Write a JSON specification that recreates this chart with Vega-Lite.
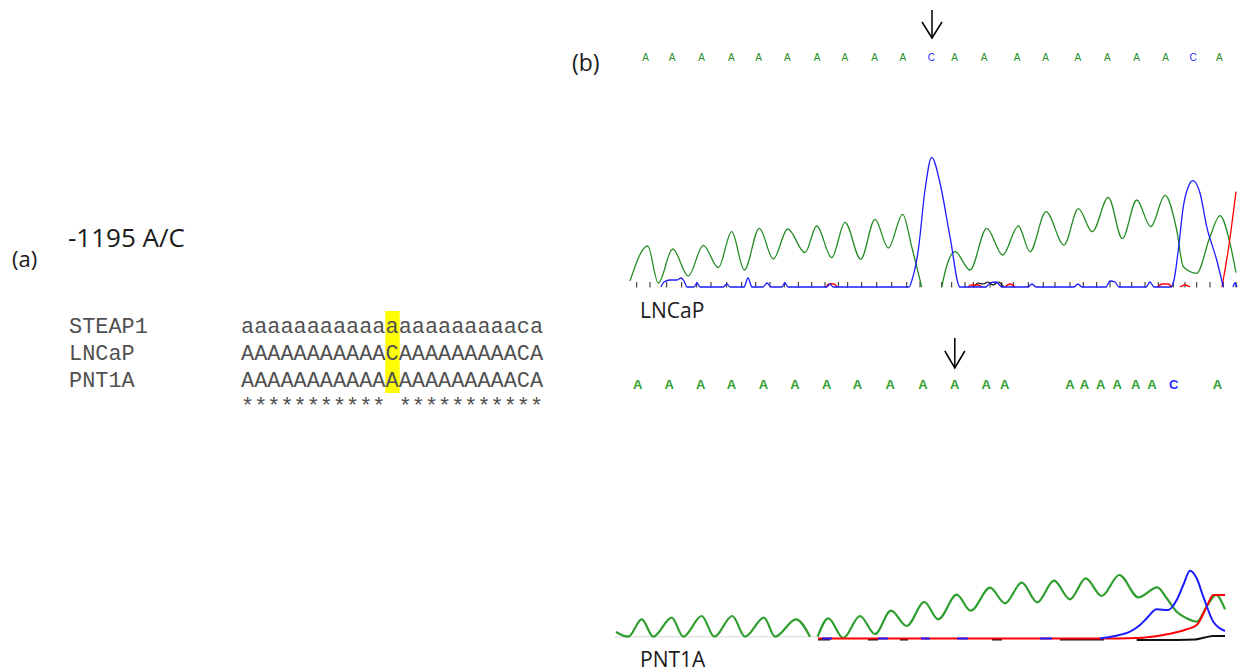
{
  "$schema": "https://vega.github.io/schema/vega-lite/v6.json",
  "width": 1248,
  "height": 672,
  "autosize": {"type": "fit", "contains": "padding"},
  "padding": 0,
  "background": "white",
  "config": {"view": {"stroke": null}},
  "datasets": {
    "highlight": [{"col": 12, "x": 385.3, "x2": 399.7, "y": 311, "y2": 393}],
    "align": [
      {"t": "STEAP1", "x": 69, "y": 333.3},
      {"t": "aaaaaaaaaaaaaaaaaaaaaca", "x": 241, "y": 333.3},
      {"t": "LNCaP", "x": 69, "y": 360},
      {"t": "AAAAAAAAAAACAAAAAAAAACA", "x": 241, "y": 360},
      {"t": "PNT1A", "x": 69, "y": 386.7},
      {"t": "AAAAAAAAAAAAAAAAAAAAACA", "x": 241, "y": 386.7},
      {"t": "*********** ***********", "x": 241, "y": 413.3}
    ],
    "labels": [
      {"t": "(a)", "x": 12, "y": 267},
      {"t": "-1195 A/C", "x": 68, "y": 247},
      {"t": "(b)", "x": 572, "y": 71},
      {"t": "LNCaP", "x": 640, "y": 318},
      {"t": "PNT1A", "x": 640, "y": 667}
    ],
    "calls1": [
      {"b": "A", "x": 645.7, "y": 58}, {"b": "A", "x": 672.1, "y": 58}, {"b": "A", "x": 701.5, "y": 58}, {"b": "A", "x": 731.4, "y": 58},
      {"b": "A", "x": 758.7, "y": 58}, {"b": "A", "x": 787.3, "y": 58}, {"b": "A", "x": 817.1, "y": 58}, {"b": "A", "x": 844.8, "y": 58},
      {"b": "A", "x": 874.7, "y": 58}, {"b": "A", "x": 902.9, "y": 58}, {"b": "C", "x": 931.4, "y": 58}, {"b": "A", "x": 954.7, "y": 58},
      {"b": "A", "x": 984.2, "y": 58}, {"b": "A", "x": 1017.1, "y": 58}, {"b": "A", "x": 1045.7, "y": 58}, {"b": "A", "x": 1077.8, "y": 58},
      {"b": "A", "x": 1107.3, "y": 58}, {"b": "A", "x": 1136.7, "y": 58}, {"b": "A", "x": 1165.7, "y": 58}, {"b": "C", "x": 1193, "y": 58},
      {"b": "A", "x": 1219.3, "y": 58}
    ],
    "calls2": [
      {"b": "A", "x": 637.8, "y": 385}, {"b": "A", "x": 669.3, "y": 385}, {"b": "A", "x": 700.8, "y": 385}, {"b": "A", "x": 731.5, "y": 385},
      {"b": "A", "x": 763.4, "y": 385}, {"b": "A", "x": 794.9, "y": 385}, {"b": "A", "x": 826.8, "y": 385}, {"b": "A", "x": 857.4, "y": 385},
      {"b": "A", "x": 890.2, "y": 385}, {"b": "A", "x": 922.9, "y": 385}, {"b": "A", "x": 954.8, "y": 385}, {"b": "A", "x": 986.3, "y": 385},
      {"b": "A", "x": 1004.7, "y": 385}, {"b": "A", "x": 1070, "y": 385}, {"b": "A", "x": 1084.4, "y": 385}, {"b": "A", "x": 1100.8, "y": 385},
      {"b": "A", "x": 1117.2, "y": 385}, {"b": "A", "x": 1135.6, "y": 385}, {"b": "A", "x": 1151.9, "y": 385}, {"b": "C", "x": 1173.6, "y": 385},
      {"b": "A", "x": 1217.4, "y": 385}
    ],
    "shafts": [
      {"id": "a1", "x": 932, "y": 10, "y2": 38},
      {"id": "a2", "x": 954.8, "y": 338, "y2": 368}
    ],
    "heads": [
      {"id": "a1", "x": 922, "y": 22}, {"id": "a1", "x": 932, "y": 38}, {"id": "a1", "x": 942, "y": 22},
      {"id": "a2", "x": 944.8, "y": 351}, {"id": "a2", "x": 954.8, "y": 368}, {"id": "a2", "x": 964.8, "y": 351}
    ],
    "ticks": [
      {"x": 636.7, "y": 282, "y2": 287.5}, {"x": 650, "y": 282, "y2": 287.5}, {"x": 666.7, "y": 282, "y2": 287.5},
      {"x": 681.7, "y": 282, "y2": 287.5}, {"x": 696.7, "y": 282, "y2": 287.5}, {"x": 711, "y": 282, "y2": 287.5},
      {"x": 726.7, "y": 282, "y2": 287.5}, {"x": 741.7, "y": 282, "y2": 287.5}, {"x": 755.7, "y": 282, "y2": 287.5},
      {"x": 770, "y": 282, "y2": 287.5}, {"x": 784.3, "y": 282, "y2": 287.5}, {"x": 798.3, "y": 282, "y2": 287.5},
      {"x": 811.7, "y": 282, "y2": 287.5}, {"x": 825, "y": 282, "y2": 287.5}, {"x": 838.3, "y": 282, "y2": 287.5},
      {"x": 847.7, "y": 282, "y2": 287.5}, {"x": 861.7, "y": 282, "y2": 287.5}, {"x": 876.7, "y": 282, "y2": 287.5},
      {"x": 891.7, "y": 282, "y2": 287.5}, {"x": 906.7, "y": 282, "y2": 287.5}, {"x": 920, "y": 282, "y2": 287.5},
      {"x": 941.7, "y": 282, "y2": 287.5}, {"x": 951.7, "y": 282, "y2": 287.5}, {"x": 965, "y": 282, "y2": 287.5},
      {"x": 973.3, "y": 282, "y2": 287.5}, {"x": 990, "y": 282, "y2": 287.5}, {"x": 1001.7, "y": 282, "y2": 287.5},
      {"x": 1013.3, "y": 282, "y2": 287.5}, {"x": 1028.3, "y": 282, "y2": 287.5}, {"x": 1043.3, "y": 282, "y2": 287.5},
      {"x": 1055, "y": 282, "y2": 287.5}, {"x": 1070, "y": 282, "y2": 287.5}, {"x": 1083.3, "y": 282, "y2": 287.5},
      {"x": 1096.7, "y": 282, "y2": 287.5}, {"x": 1110, "y": 282, "y2": 287.5}, {"x": 1120, "y": 282, "y2": 287.5},
      {"x": 1131.7, "y": 282, "y2": 287.5}, {"x": 1145, "y": 282, "y2": 287.5}, {"x": 1158.3, "y": 282, "y2": 287.5},
      {"x": 1173.3, "y": 282, "y2": 287.5}, {"x": 1185, "y": 282, "y2": 287.5}, {"x": 1196.7, "y": 282, "y2": 287.5},
      {"x": 1210, "y": 282, "y2": 287.5}, {"x": 1223.3, "y": 282, "y2": 287.5}, {"x": 1236, "y": 282, "y2": 287.5}
    ],
    "traces": [
      {"s": "tG1", "x": 630, "y": 281}, {"s": "tG1", "x": 647.7, "y": 246}, {"s": "tG1", "x": 658.3, "y": 283},
      {"s": "tG1", "x": 672.7, "y": 249}, {"s": "tG1", "x": 688.3, "y": 276}, {"s": "tG1", "x": 703.3, "y": 245.3},
      {"s": "tG1", "x": 718.3, "y": 267.7}, {"s": "tG1", "x": 731.7, "y": 231.7}, {"s": "tG1", "x": 744.3, "y": 270},
      {"s": "tG1", "x": 759.3, "y": 228.3}, {"s": "tG1", "x": 773.3, "y": 259}, {"s": "tG1", "x": 787.7, "y": 229},
      {"s": "tG1", "x": 805, "y": 252.7}, {"s": "tG1", "x": 816.7, "y": 226}, {"s": "tG1", "x": 831.7, "y": 257.7},
      {"s": "tG1", "x": 845, "y": 222.3}, {"s": "tG1", "x": 860.7, "y": 259.3}, {"s": "tG1", "x": 875, "y": 219.3},
      {"s": "tG1", "x": 888.3, "y": 248}, {"s": "tG1", "x": 902.7, "y": 214.3}, {"s": "tG1", "x": 911.7, "y": 246.7},
      {"s": "tG1", "x": 916.7, "y": 266.7}, {"s": "tG1", "x": 921.7, "y": 287},
      {"s": "tG2", "x": 941.7, "y": 287}, {"s": "tG2", "x": 947, "y": 265}, {"s": "tG2", "x": 955, "y": 251.7},
      {"s": "tG2", "x": 970, "y": 270}, {"s": "tG2", "x": 986.7, "y": 228.3}, {"s": "tG2", "x": 1002.7, "y": 255},
      {"s": "tG2", "x": 1018.3, "y": 226}, {"s": "tG2", "x": 1030, "y": 251.7}, {"s": "tG2", "x": 1046, "y": 211.7},
      {"s": "tG2", "x": 1064, "y": 245}, {"s": "tG2", "x": 1078.3, "y": 208.7}, {"s": "tG2", "x": 1092.3, "y": 231.7},
      {"s": "tG2", "x": 1108.3, "y": 197.3}, {"s": "tG2", "x": 1122.3, "y": 238.7}, {"s": "tG2", "x": 1136.7, "y": 200},
      {"s": "tG2", "x": 1150.7, "y": 226.7}, {"s": "tG2", "x": 1165, "y": 195.3}, {"s": "tG2", "x": 1176.7, "y": 230},
      {"s": "tG2", "x": 1183.3, "y": 266.7}, {"s": "tG2", "x": 1196.7, "y": 273.3}, {"s": "tG2", "x": 1210, "y": 236.7},
      {"s": "tG2", "x": 1220, "y": 215.7}, {"s": "tG2", "x": 1230, "y": 243.3}, {"s": "tG2", "x": 1236, "y": 272.7},

      {"s": "tB1", "x": 661, "y": 287}, {"s": "tB1", "x": 664, "y": 282}, {"s": "tB1", "x": 670, "y": 280},
      {"s": "tB1", "x": 677, "y": 280}, {"s": "tB1", "x": 681, "y": 278}, {"s": "tB1", "x": 684, "y": 281},
      {"s": "tB1", "x": 687, "y": 287}, {"s": "tB1", "x": 694, "y": 287}, {"s": "tB1", "x": 697, "y": 283},
      {"s": "tB1", "x": 700, "y": 287}, {"s": "tB1", "x": 723, "y": 287}, {"s": "tB1", "x": 727, "y": 284},
      {"s": "tB1", "x": 730, "y": 287}, {"s": "tB1", "x": 744, "y": 287}, {"s": "tB1", "x": 748, "y": 278},
      {"s": "tB1", "x": 752, "y": 287}, {"s": "tB1", "x": 763, "y": 287}, {"s": "tB1", "x": 767, "y": 283},
      {"s": "tB1", "x": 771, "y": 287}, {"s": "tB1", "x": 782, "y": 287}, {"s": "tB1", "x": 785, "y": 283},
      {"s": "tB1", "x": 788, "y": 287}, {"s": "tB1", "x": 827, "y": 287}, {"s": "tB1", "x": 830, "y": 284},
      {"s": "tB1", "x": 833, "y": 287}, {"s": "tB1", "x": 909, "y": 287}, {"s": "tB1", "x": 912, "y": 280},
      {"s": "tB1", "x": 918.3, "y": 250}, {"s": "tB1", "x": 925, "y": 190}, {"s": "tB1", "x": 931.7, "y": 157.3},
      {"s": "tB1", "x": 940, "y": 183}, {"s": "tB1", "x": 950, "y": 236.7}, {"s": "tB1", "x": 960, "y": 287},
      {"s": "tB1", "x": 986, "y": 287}, {"s": "tB1", "x": 990, "y": 283}, {"s": "tB1", "x": 996, "y": 282},
      {"s": "tB1", "x": 1002, "y": 287}, {"s": "tB1", "x": 1028, "y": 287}, {"s": "tB1", "x": 1032, "y": 284},
      {"s": "tB1", "x": 1036, "y": 287}, {"s": "tB1", "x": 1074, "y": 287}, {"s": "tB1", "x": 1078, "y": 284},
      {"s": "tB1", "x": 1082, "y": 287}, {"s": "tB1", "x": 1106, "y": 287}, {"s": "tB1", "x": 1110, "y": 281},
      {"s": "tB1", "x": 1115, "y": 282}, {"s": "tB1", "x": 1119, "y": 287}, {"s": "tB1", "x": 1146, "y": 287},
      {"s": "tB1", "x": 1150, "y": 282}, {"s": "tB1", "x": 1154, "y": 287}, {"s": "tB1", "x": 1171, "y": 287},
      {"s": "tB1", "x": 1174, "y": 280}, {"s": "tB1", "x": 1178.3, "y": 250}, {"s": "tB1", "x": 1183.3, "y": 206.7},
      {"s": "tB1", "x": 1188.3, "y": 186.7}, {"s": "tB1", "x": 1192.7, "y": 180.7}, {"s": "tB1", "x": 1200, "y": 193},
      {"s": "tB1", "x": 1206.7, "y": 226.7}, {"s": "tB1", "x": 1216.7, "y": 260}, {"s": "tB1", "x": 1223.3, "y": 287},
      {"s": "tB2", "x": 1233, "y": 287}, {"s": "tB2", "x": 1235, "y": 283}, {"s": "tB2", "x": 1237, "y": 287},

      {"s": "tR1", "x": 826, "y": 287}, {"s": "tR1", "x": 829, "y": 284}, {"s": "tR1", "x": 834, "y": 284}, {"s": "tR1", "x": 837, "y": 287},
      {"s": "tR2", "x": 968, "y": 287}, {"s": "tR2", "x": 972, "y": 285}, {"s": "tR2", "x": 978, "y": 285}, {"s": "tR2", "x": 982, "y": 287},
      {"s": "tR3", "x": 1005, "y": 287}, {"s": "tR3", "x": 1010, "y": 284}, {"s": "tR3", "x": 1015, "y": 287},
      {"s": "tR4", "x": 1158, "y": 287}, {"s": "tR4", "x": 1162, "y": 284}, {"s": "tR4", "x": 1168, "y": 284}, {"s": "tR4", "x": 1172, "y": 287},
      {"s": "tR5", "x": 1180, "y": 287}, {"s": "tR5", "x": 1185, "y": 285}, {"s": "tR5", "x": 1190, "y": 287},
      {"s": "tR6", "x": 1222, "y": 287}, {"s": "tR6", "x": 1229, "y": 245}, {"s": "tR6", "x": 1236, "y": 191.7},
      {"s": "tK1", "x": 974, "y": 287}, {"s": "tK1", "x": 978, "y": 283}, {"s": "tK1", "x": 983, "y": 284},
      {"s": "tK1", "x": 988, "y": 282}, {"s": "tK1", "x": 993, "y": 285}, {"s": "tK1", "x": 998, "y": 282}, {"s": "tK1", "x": 1004, "y": 287},

      {"s": "bL1", "x": 615, "y": 636.7}, {"s": "bL1", "x": 818, "y": 636.7},
      {"s": "bG1", "x": 616, "y": 632}, {"s": "bG1", "x": 628.3, "y": 636.7}, {"s": "bG1", "x": 641.7, "y": 619.3},
      {"s": "bG1", "x": 653.3, "y": 636.7}, {"s": "bG1", "x": 671.7, "y": 617.7}, {"s": "bG1", "x": 683.3, "y": 636.7},
      {"s": "bG1", "x": 701.7, "y": 616}, {"s": "bG1", "x": 714.3, "y": 636.7}, {"s": "bG1", "x": 732.3, "y": 616},
      {"s": "bG1", "x": 745, "y": 636.7}, {"s": "bG1", "x": 764, "y": 617.7}, {"s": "bG1", "x": 775, "y": 636.7},
      {"s": "bG1", "x": 796, "y": 619.3}, {"s": "bG1", "x": 810, "y": 636.7},
      {"s": "bG2", "x": 817.7, "y": 636.7}, {"s": "bG2", "x": 828.3, "y": 618.3}, {"s": "bG2", "x": 843.3, "y": 638},
      {"s": "bG2", "x": 860, "y": 616}, {"s": "bG2", "x": 875, "y": 634}, {"s": "bG2", "x": 891, "y": 610.7},
      {"s": "bG2", "x": 906.7, "y": 626}, {"s": "bG2", "x": 924.3, "y": 602}, {"s": "bG2", "x": 938.3, "y": 619.3},
      {"s": "bG2", "x": 956.7, "y": 594.7}, {"s": "bG2", "x": 970.7, "y": 610.7}, {"s": "bG2", "x": 990, "y": 587.7},
      {"s": "bG2", "x": 1005, "y": 603.3}, {"s": "bG2", "x": 1021.7, "y": 582.7}, {"s": "bG2", "x": 1037.3, "y": 602.3},
      {"s": "bG2", "x": 1054, "y": 580.7}, {"s": "bG2", "x": 1070, "y": 599.3}, {"s": "bG2", "x": 1085.7, "y": 578.3},
      {"s": "bG2", "x": 1101.7, "y": 596}, {"s": "bG2", "x": 1119.3, "y": 575}, {"s": "bG2", "x": 1138.3, "y": 597.3},
      {"s": "bG2", "x": 1157.3, "y": 587.3}, {"s": "bG2", "x": 1166.7, "y": 598.3}, {"s": "bG2", "x": 1176.7, "y": 611.7},
      {"s": "bG2", "x": 1186.7, "y": 618.3}, {"s": "bG2", "x": 1196.7, "y": 621.7}, {"s": "bG2", "x": 1206.7, "y": 606.7},
      {"s": "bG2", "x": 1216, "y": 595}, {"s": "bG2", "x": 1225, "y": 609.3},

      {"s": "bK1", "x": 818, "y": 639.5}, {"s": "bK1", "x": 830, "y": 639.5},
      {"s": "bK2", "x": 868, "y": 639.5}, {"s": "bK2", "x": 878, "y": 639.5},
      {"s": "bK3", "x": 900, "y": 639.5}, {"s": "bK3", "x": 908, "y": 639.5},
      {"s": "bK4", "x": 992, "y": 639.5}, {"s": "bK4", "x": 1002, "y": 639.5},
      {"s": "bK5", "x": 1060, "y": 639.5}, {"s": "bK5", "x": 1104, "y": 639.5},
      {"s": "bK6", "x": 1136.7, "y": 640}, {"s": "bK6", "x": 1160, "y": 640}, {"s": "bK6", "x": 1195, "y": 639.5},
      {"s": "bK6", "x": 1205, "y": 637.5}, {"s": "bK6", "x": 1213, "y": 636}, {"s": "bK6", "x": 1225, "y": 636},

      {"s": "bR1", "x": 818, "y": 638.5}, {"s": "bR1", "x": 1100, "y": 638.5}, {"s": "bR1", "x": 1136.7, "y": 638},
      {"s": "bR1", "x": 1163.3, "y": 635}, {"s": "bR1", "x": 1186.7, "y": 629.3}, {"s": "bR1", "x": 1196.7, "y": 625},
      {"s": "bR1", "x": 1206.7, "y": 606.7}, {"s": "bR1", "x": 1213.3, "y": 595}, {"s": "bR1", "x": 1225, "y": 595},

      {"s": "bB1", "x": 822, "y": 638.5}, {"s": "bB1", "x": 832, "y": 638.5},
      {"s": "bB2", "x": 878, "y": 638.5}, {"s": "bB2", "x": 888, "y": 638.5},
      {"s": "bB3", "x": 921, "y": 638.5}, {"s": "bB3", "x": 930, "y": 638.5},
      {"s": "bB4", "x": 957, "y": 638.5}, {"s": "bB4", "x": 968, "y": 638.5},
      {"s": "bB5", "x": 1040, "y": 638.5}, {"s": "bB5", "x": 1052, "y": 638.5},
      {"s": "bB6", "x": 1100, "y": 638.5}, {"s": "bB6", "x": 1115, "y": 636}, {"s": "bB6", "x": 1130, "y": 631.7},
      {"s": "bB6", "x": 1140, "y": 625}, {"s": "bB6", "x": 1146.7, "y": 618.3}, {"s": "bB6", "x": 1156.7, "y": 609.3},
      {"s": "bB6", "x": 1168.3, "y": 610}, {"s": "bB6", "x": 1176.7, "y": 600}, {"s": "bB6", "x": 1183.3, "y": 585},
      {"s": "bB6", "x": 1190, "y": 570.7}, {"s": "bB6", "x": 1196.7, "y": 578.3}, {"s": "bB6", "x": 1203.3, "y": 596.7},
      {"s": "bB6", "x": 1213.3, "y": 621.7}, {"s": "bB6", "x": 1225, "y": 631}
    ]
  },
  "encoding": {
    "x": {"field": "x", "type": "quantitative", "scale": {"domain": [0, 1248], "nice": false, "zero": false}, "axis": null},
    "y": {"field": "y", "type": "quantitative", "scale": {"domain": [0, 672], "reverse": true, "nice": false, "zero": false}, "axis": null}
  },
  "layer": [
    {
      "data": {"name": "highlight"},
      "mark": {"type": "rect", "color": "#ffff00"},
      "encoding": {"x2": {"field": "x2"}, "y2": {"field": "y2"}}
    },
    {
      "data": {"name": "align"},
      "mark": {"type": "text", "align": "left", "baseline": "alphabetic", "font": "Courier New, Liberation Mono, monospace", "fontSize": 21.9, "color": "#505050"},
      "encoding": {"text": {"field": "t"}}
    },
    {
      "data": {"name": "labels"},
      "transform": [{"filter": "datum.t=='(a)'"}],
      "mark": {"type": "text", "align": "left", "baseline": "alphabetic", "font": "Open Sans", "fontSize": 22, "color": "#1a1a1a"},
      "encoding": {"text": {"field": "t"}}
    },
    {
      "data": {"name": "labels"},
      "transform": [{"filter": "datum.t=='-1195 A/C'"}],
      "mark": {"type": "text", "align": "left", "baseline": "alphabetic", "font": "Open Sans", "fontSize": 26, "color": "#1a1a1a"},
      "encoding": {"text": {"field": "t"}}
    },
    {
      "data": {"name": "labels"},
      "transform": [{"filter": "datum.t=='(b)'"}],
      "mark": {"type": "text", "align": "left", "baseline": "alphabetic", "font": "Open Sans", "fontSize": 23, "color": "#1a1a1a"},
      "encoding": {"text": {"field": "t"}}
    },
    {
      "data": {"name": "labels"},
      "transform": [{"filter": "datum.t=='LNCaP' || datum.t=='PNT1A'"}],
      "mark": {"type": "text", "align": "left", "baseline": "alphabetic", "font": "Open Sans", "fontSize": 21, "color": "#1a1a1a"},
      "encoding": {"text": {"field": "t"}}
    },
    {
      "data": {"name": "calls1"},
      "mark": {"type": "text", "align": "center", "baseline": "middle", "font": "Liberation Sans", "fontSize": 10},
      "encoding": {
        "text": {"field": "b"},
        "color": {"field": "b", "type": "nominal", "scale": {"domain": ["A", "C"], "range": ["#248c24", "#2a2aff"]}, "legend": null}
      }
    },
    {
      "data": {"name": "calls2"},
      "mark": {"type": "text", "align": "center", "baseline": "middle", "font": "Liberation Sans", "fontSize": 13, "fontWeight": "bold"},
      "encoding": {
        "text": {"field": "b"},
        "color": {"field": "b", "type": "nominal", "scale": {"domain": ["A", "C"], "range": ["#2f9f2f", "#2a2aff"]}, "legend": null}
      }
    },
    {
      "data": {"name": "shafts"},
      "mark": {"type": "rule", "color": "#000000", "strokeWidth": 1.5},
      "encoding": {"y2": {"field": "y2"}}
    },
    {
      "data": {"name": "heads"},
      "mark": {"type": "line", "color": "#000000", "strokeWidth": 1.5},
      "encoding": {"detail": {"field": "id"}}
    },
    {
      "data": {"name": "ticks"},
      "mark": {"type": "rule", "color": "#222222", "strokeWidth": 1},
      "encoding": {"y2": {"field": "y2"}}
    },
    {
      "data": {"name": "traces"},
      "transform": [{"filter": "indexof(datum.s,'tG')==0"}],
      "mark": {"type": "line", "interpolate": "monotone", "color": "#238c23", "strokeWidth": 1.3},
      "encoding": {"detail": {"field": "s"}}
    },
    {
      "data": {"name": "traces"},
      "transform": [{"filter": "indexof(datum.s,'tK')==0"}],
      "mark": {"type": "line", "interpolate": "monotone", "color": "#000000", "strokeWidth": 1.2},
      "encoding": {"detail": {"field": "s"}}
    },
    {
      "data": {"name": "traces"},
      "transform": [{"filter": "indexof(datum.s,'tR')==0"}],
      "mark": {"type": "line", "interpolate": "monotone", "color": "#ff0000", "strokeWidth": 1.3},
      "encoding": {"detail": {"field": "s"}}
    },
    {
      "data": {"name": "traces"},
      "transform": [{"filter": "indexof(datum.s,'tB')==0"}],
      "mark": {"type": "line", "interpolate": "monotone", "color": "#1c1cff", "strokeWidth": 1.3},
      "encoding": {"detail": {"field": "s"}}
    },
    {
      "data": {"name": "traces"},
      "transform": [{"filter": "indexof(datum.s,'bL')==0"}],
      "mark": {"type": "line", "color": "#e4e4e4", "strokeWidth": 1.5},
      "encoding": {"detail": {"field": "s"}}
    },
    {
      "data": {"name": "traces"},
      "transform": [{"filter": "indexof(datum.s,'bG')==0"}],
      "mark": {"type": "line", "interpolate": "monotone", "color": "#2e9e2e", "strokeWidth": 2.2},
      "encoding": {"detail": {"field": "s"}}
    },
    {
      "data": {"name": "traces"},
      "transform": [{"filter": "indexof(datum.s,'bK')==0"}],
      "mark": {"type": "line", "interpolate": "monotone", "color": "#111111", "strokeWidth": 2},
      "encoding": {"detail": {"field": "s"}}
    },
    {
      "data": {"name": "traces"},
      "transform": [{"filter": "indexof(datum.s,'bR')==0"}],
      "mark": {"type": "line", "interpolate": "monotone", "color": "#ff0000", "strokeWidth": 2},
      "encoding": {"detail": {"field": "s"}}
    },
    {
      "data": {"name": "traces"},
      "transform": [{"filter": "indexof(datum.s,'bB')==0"}],
      "mark": {"type": "line", "interpolate": "monotone", "color": "#1c1cff", "strokeWidth": 2},
      "encoding": {"detail": {"field": "s"}}
    }
  ],
  "resolve": {"scale": {"color": "independent"}}
}
